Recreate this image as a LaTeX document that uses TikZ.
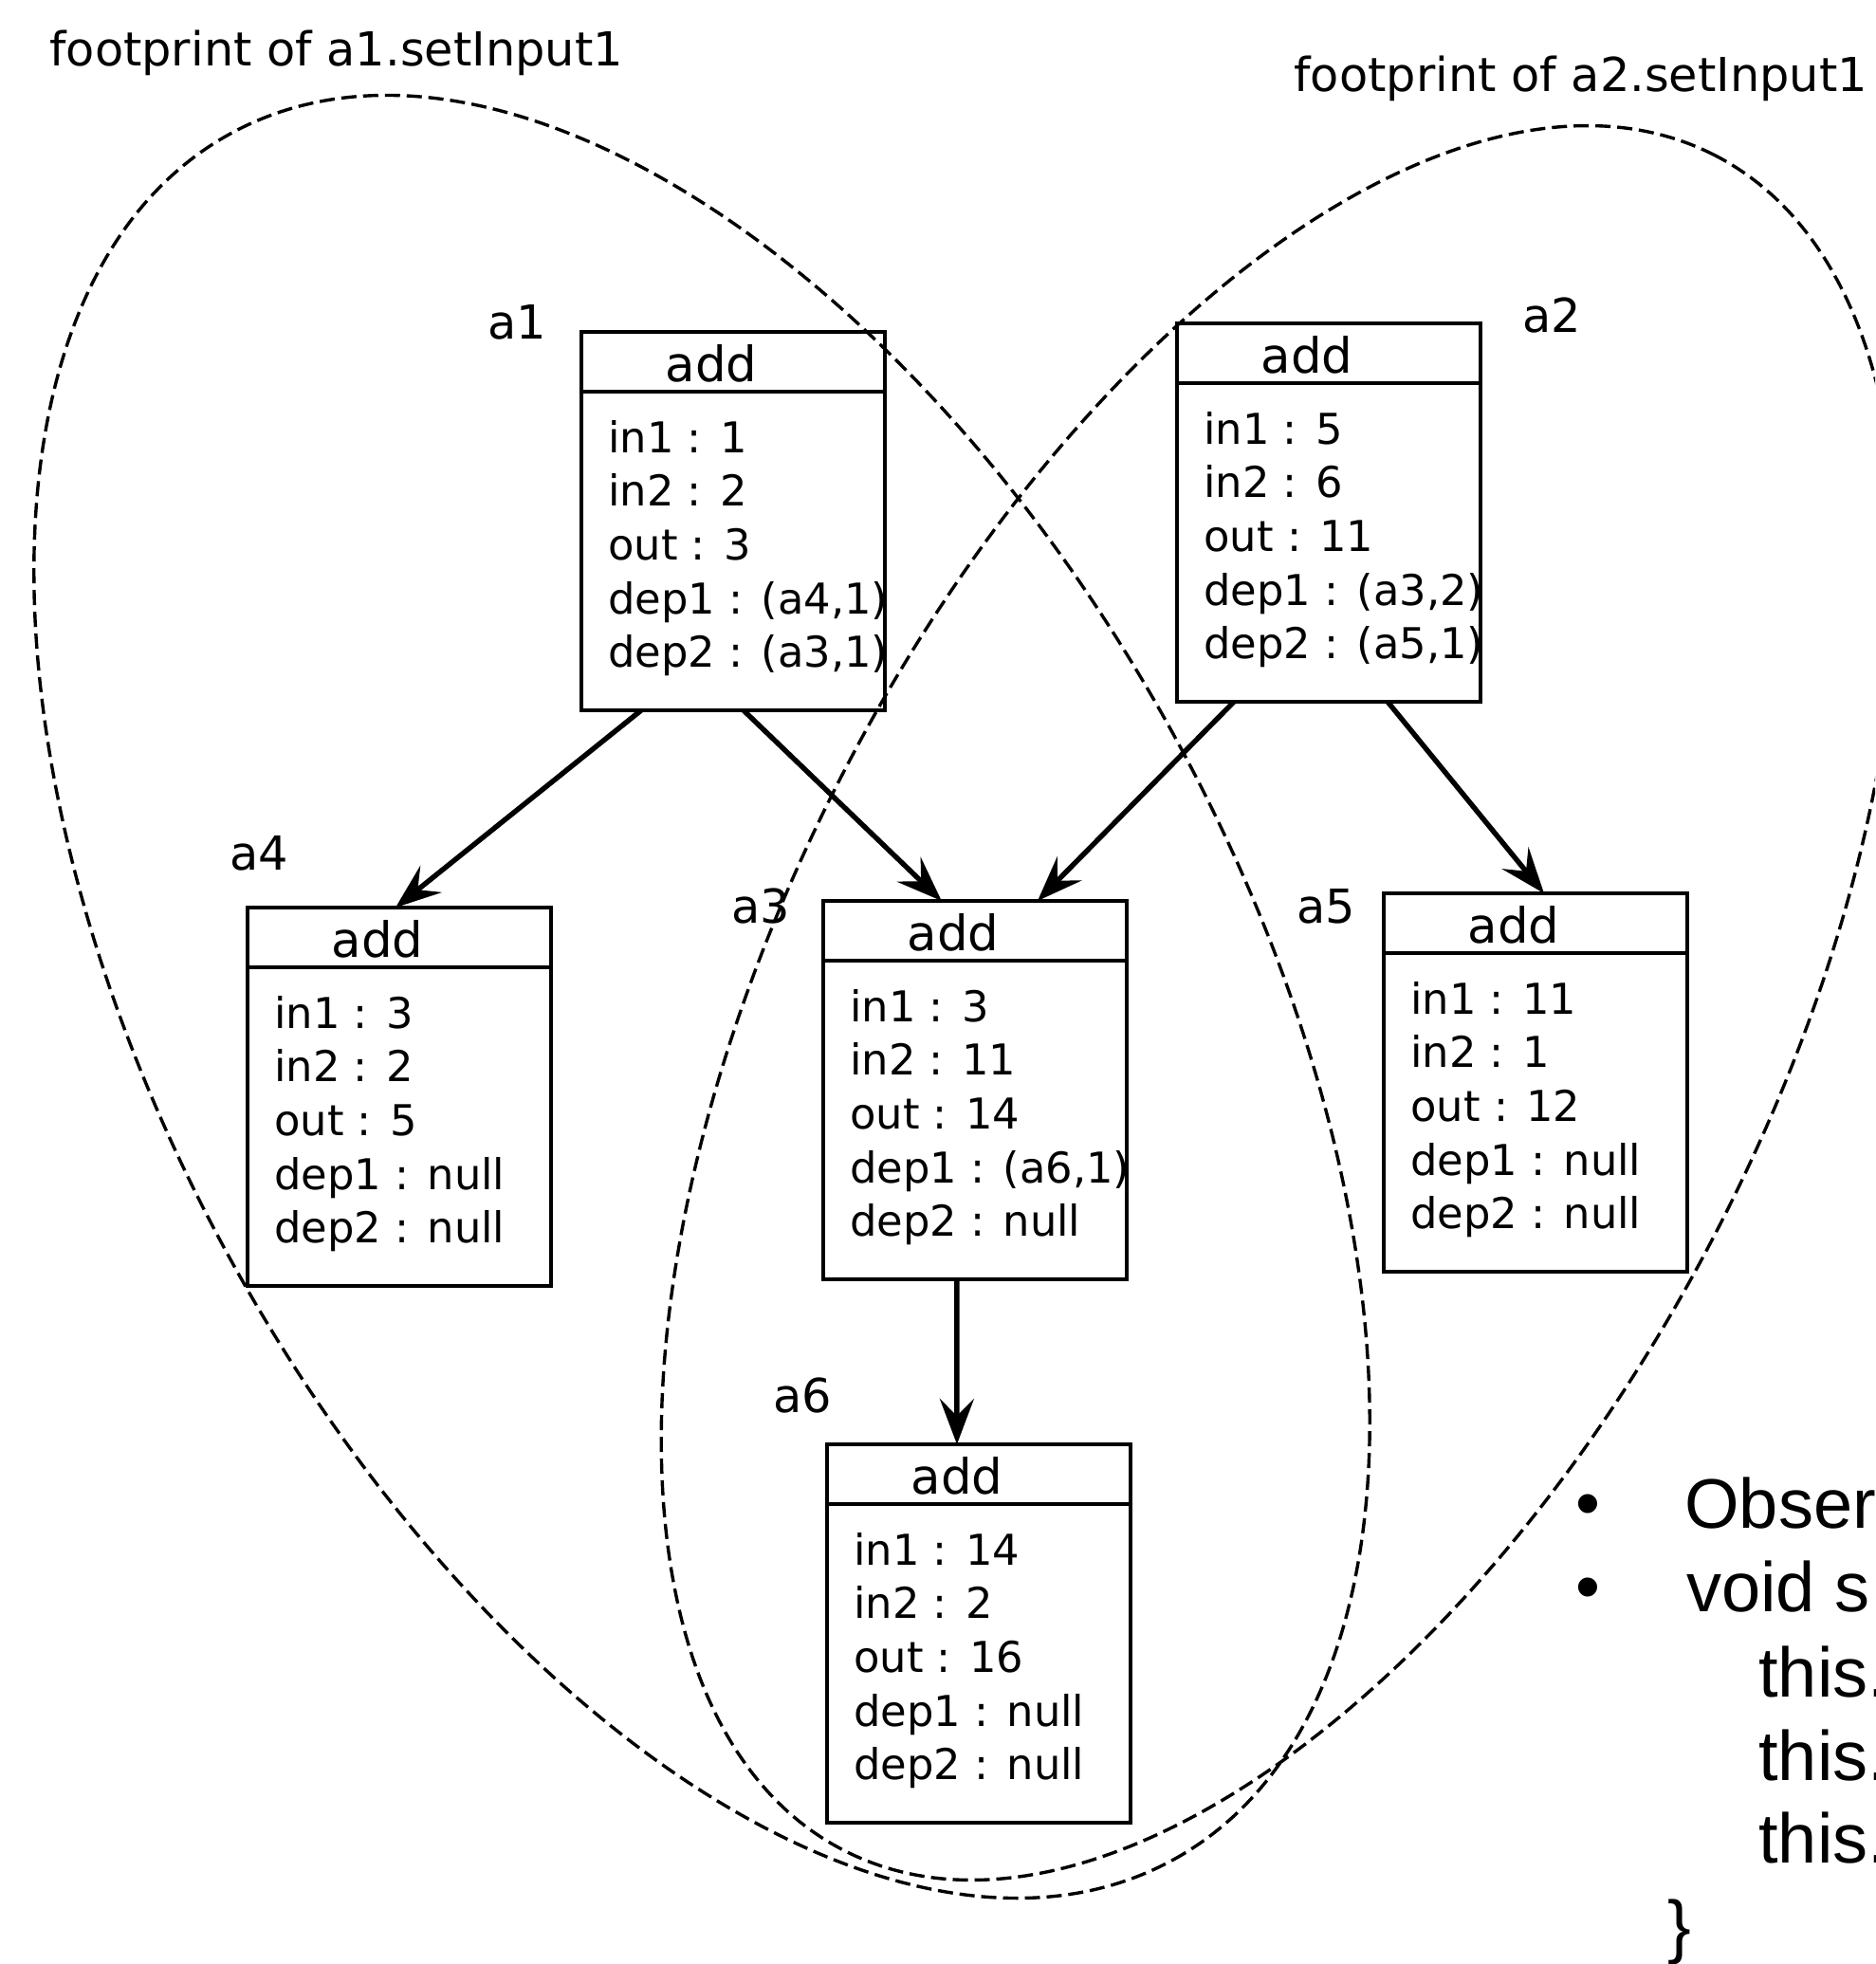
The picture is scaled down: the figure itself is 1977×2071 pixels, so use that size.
\documentclass[tikz,border=0pt]{standalone}
\usepackage{fontspec}
\setmainfont{DejaVu Sans}
\newfontfamily\arialf{Liberation Sans}
\usetikzlibrary{arrows.meta,calc}
\tikzset{
 objrect/.style={draw, line width=2.1pt, minimum width=160pt, minimum height=199.5pt, inner sep=0pt, outer sep=0pt},
 hdrline/.style={line width=1.8pt},
 addtxt/.style={inner sep=0pt, anchor=base, font=\fontsize{25.7}{30}\selectfont},
 fld/.style={inner sep=0pt, anchor=base west, font=\fontsize{22.4}{27}\selectfont},
 lbl/.style={inner sep=0pt, anchor=base west, font=\fontsize{24.7}{29}\selectfont},
 fp/.style={dash pattern=on 8pt off 3.5pt, line width=1.7pt},
 dep/.style={line width=2.7pt, -{Stealth[length=24pt,width=18pt,inset=9pt]}},
 slide/.style={inner sep=0pt, anchor=base west, font=\arialf\fontsize{37}{44}\selectfont},
 bul/.style={inner sep=0pt, anchor=base, font=\arialf\fontsize{37}{44}\selectfont},
}
\newcommand\objbox[8]{%
 \node[objrect, anchor=north west] (#1) at (#2,#3) {};
 \draw[hdrline] ($(#1.north west)+(0,63)$) -- ($(#1.north east)+(0,63)$);
 \node[addtxt] (#1h) at ($(#1.north west)+(137,52)$) {add};
 \node[fld] (#1f1) at ($(#1.north west)+(28,127)$) {#4};
 \node[fld] (#1f2) at ($(#1.north west)+(28,183.7)$) {#5};
 \node[fld] (#1f3) at ($(#1.north west)+(28,240.4)$) {#6};
 \node[fld] (#1f4) at ($(#1.north west)+(28,297.1)$) {#7};
 \node[fld] (#1f5) at ($(#1.north west)+(28,353.8)$) {#8};
}
\begin{document}
\begin{tikzpicture}[x=0.5pt,y=-0.5pt]
\useasboundingbox (0,0) rectangle (1977,2071);
\fill[white] (0,0) rectangle (1977,2071);
\clip (0,0) rectangle (1977,2071);

% footprints
\draw[fp, rotate around={-61.4:(740,1051)}] (740,1051) ellipse [x radius=518.5pt, y radius=284.5pt];
\draw[fp, rotate around={62.8:(1349,1057.5)}] (1349,1057.5) ellipse [x radius=502.4pt, y radius=260pt];

\node[lbl] (t1) at (52,70) {footprint of a1.setInput1};
\node[lbl] (t2) at (1364,97) {footprint of a2.setInput1};

% boxes
\objbox{a1}{613}{350}{in1 : 1}{in2 : 2}{out : 3}{dep1 : (a4,1)}{dep2 : (a3,1)}
\objbox{a2}{1241}{341}{in1 : 5}{in2 : 6}{out : 11}{dep1 : (a3,2)}{dep2 : (a5,1)}
\objbox{a4}{261}{957}{in1 : 3}{in2 : 2}{out : 5}{dep1 : null}{dep2 : null}
\objbox{a3}{868}{950}{in1 : 3}{in2 : 11}{out : 14}{dep1 : (a6,1)}{dep2 : null}
\objbox{a5}{1459}{942}{in1 : 11}{in2 : 1}{out : 12}{dep1 : null}{dep2 : null}
\objbox{a6}{872}{1523}{in1 : 14}{in2 : 2}{out : 16}{dep1 : null}{dep2 : null}

% labels
\node[lbl] (la1) at (514,357) {a1};
\node[lbl] (la2) at (1605,350) {a2};
\node[lbl] (la4) at (242,917) {a4};
\node[lbl] (la3) at (771,973) {a3};
\node[lbl] (la5) at (1367,973) {a5};
\node[lbl] (la6) at (815,1489) {a6};

% dependencies
\draw[dep] ($(a1.south west)!0.197!(a1.south east)$) -- ($(a4.north west)!0.4875!(a4.north east)$);
\draw[dep] ($(a1.south west)!0.534!(a1.south east)$) -- ($(a3.north west)!0.39!(a3.north east)$);
\draw[dep] ($(a2.south west)!0.1875!(a2.south east)$) -- ($(a3.north west)!0.706!(a3.north east)$);
\draw[dep] ($(a2.south west)!0.694!(a2.south east)$) -- ($(a5.north west)!0.528!(a5.north east)$);
\draw[dep] ($(a3.south west)!0.44!(a3.south east)$) -- ($(a6.north west)!0.428!(a6.north east)$);

% slide text (cut at the page edge, as in the reference)
\node[bul] (b1) at (1674,1610) {•};
\node[bul] (b2) at (1674,1698) {•};
\node[slide] (s1) at (1776,1611) {Obser};
\node[slide] (s2) at (1778,1699) {void s};
\node[slide] (s3) at (1854,1789) {this.};
\node[slide] (s4) at (1854,1877) {this.};
\node[slide] (s5) at (1854,1964) {this.};
\node[slide] (s6) at (1758,2056) {\}};
\end{tikzpicture}
\end{document}
